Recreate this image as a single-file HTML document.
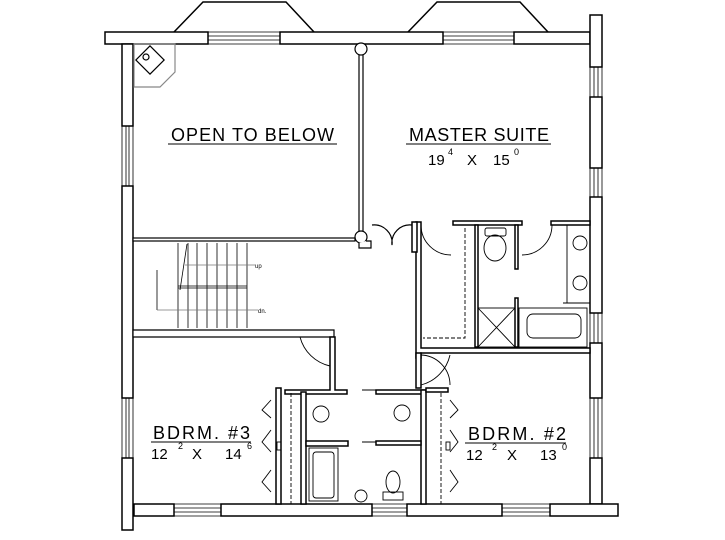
<!DOCTYPE html>
<html><head><style>
html,body{margin:0;padding:0;background:#fff}
svg{display:block}
text{font-family:"Liberation Sans",sans-serif;fill:#000}
</style></head><body>
<svg width="725" height="540" viewBox="0 0 725 540" xmlns="http://www.w3.org/2000/svg">
<g fill="#fff" stroke="#000" stroke-width="1.5">
<polyline points="174,32 203,2 286,2 314,32" fill="none"/>
<polyline points="408,32 437,2 520,2 548,32" fill="none"/>
<rect x="105" y="32" width="103" height="12"/>
<rect x="280" y="32" width="163" height="12"/>
<rect x="514" y="32" width="76" height="12"/>
<rect x="590" y="15" width="12" height="52"/>
<rect x="590" y="97" width="12" height="71"/>
<rect x="590" y="197" width="12" height="116"/>
<rect x="590" y="343" width="12" height="55"/>
<rect x="590" y="458" width="12" height="46"/>
<rect x="122" y="44" width="11" height="82"/>
<rect x="122" y="186" width="11" height="212"/>
<rect x="122" y="458" width="11" height="72"/>
<rect x="134" y="504" width="40" height="12"/>
<rect x="221" y="504" width="151" height="12"/>
<rect x="407" y="504" width="95" height="12"/>
<rect x="550" y="504" width="68" height="12"/>
</g>
<g stroke="#000" stroke-width="0.8" fill="none">
<path d="M208,32H280M208,36H280M208,40H280M208,44H280"/>
<path d="M443,32H514M443,36H514M443,40H514M443,44H514"/>
<path d="M122,126V186M126,126V186M129,126V186M133,126V186"/>
<path d="M122,398V458M126,398V458M129,398V458M133,398V458"/>
<path d="M590,67V97M594,67V97M598,67V97M602,67V97"/>
<path d="M590,168V197M594,168V197M598,168V197M602,168V197"/>
<path d="M590,313V343M594,313V343M598,313V343M602,313V343"/>
<path d="M590,398V458M594,398V458M598,398V458M602,398V458"/>
<path d="M174,504H221M174,508H221M174,512H221M174,516H221"/>
<path d="M372,504H407M372,508H407M372,512H407M372,516H407"/>
<path d="M502,504H550M502,508H550M502,512H550M502,516H550"/>
</g>
<g stroke="#000" stroke-width="1.2" fill="#fff">
<polygon points="134,44 175,44 175,72 160,87 134,87" stroke="#888" fill="none"/>
<rect x="140" y="50" width="20" height="20" transform="rotate(45 150 60)"/>
<circle cx="146" cy="57" r="3"/>
<rect x="359" y="49" width="4" height="188"/>
<circle cx="361" cy="49" r="6"/>
<circle cx="361" cy="237" r="6"/>
<rect x="133" y="238" width="222" height="3"/>
<polyline points="359,243 359,248 371,248 371,241 366,241" fill="#fff"/>
<path d="M372,225 A18,18 0 0 1 392,245 A18,18 0 0 1 412,225" fill="none"/>
<path d="M133,330 H334 V337 H133Z"/>
</g>
<g stroke="#000" stroke-width="0.8" fill="none">
<path d="M178,243V328M188,243V328M197,243V328M207,243V328M217,243V328M227,243V328M237,243V328M247,243V328"/>
<path d="M178,286H247M178,288H247"/>
<path d="M187,244L180,290"/>
<path d="M157,270V310"/>
<path d="M185,265H255M157,310H258" stroke="#777"/>
</g>
<text x="255" y="268" font-size="6" fill="#777">up</text>
<text x="258" y="313" font-size="6" fill="#777">dn.</text>
<g stroke="#000" stroke-width="1.5" fill="#fff">
<path d="M416,222H421V348H590V353H421V358H416Z"/>
<rect x="453" y="221" width="69" height="4"/>
<rect x="551" y="221" width="39" height="4"/>
<rect x="475" y="225" width="3" height="122"/>
<rect x="515" y="298" width="3" height="49"/>
<rect x="515" y="225" width="3" height="44"/>
<rect x="412" y="222" width="5" height="30"/>
</g>
<g stroke="#000" stroke-width="0.9" fill="none">
<path d="M421,225 A30,30 0 0 0 451,255"/>
<path d="M552,225 A30,30 0 0 1 522,255"/>
<path d="M465,228V338H423" stroke-dasharray="4,2"/>
<path d="M567,225V303H590"/>
<path d="M563,303H590V308"/>
<rect x="478" y="308" width="37" height="39"/>
<path d="M478,308L515,347M515,308L478,347"/>
<rect x="519" y="308" width="68" height="39"/>
<rect x="527" y="314" width="54" height="24" rx="6"/>
<ellipse cx="495" cy="248" rx="11" ry="13"/>
<rect x="485" y="228" width="21" height="8" rx="2"/>
<circle cx="580" cy="243" r="7"/><circle cx="580" cy="283" r="7"/>
<path d="M420,355 A30,30 0 0 1 450,385"/>
</g>
<g stroke="#000" stroke-width="1.5" fill="#fff">
<path d="M330,337H335V390H347V394H285V390H330Z"/>
<rect x="276" y="388" width="5" height="116"/>
<rect x="301" y="392" width="5" height="112"/>
<rect x="306" y="441" width="42" height="5"/>
<rect x="376" y="390" width="48" height="4"/>
<rect x="421" y="390" width="5" height="114"/>
<rect x="426" y="388" width="22" height="4"/>
<rect x="376" y="441" width="45" height="4"/>
<path d="M416,353H421V388H416Z"/>
</g>
<g stroke="#000" stroke-width="0.9" fill="none">
<path d="M300,337 A40,40 0 0 0 330,366"/>
<path d="M450,355 A40,40 0 0 1 421,385" />
<path d="M291,393V504M441,393V504" stroke-dasharray="4,2"/>
<path d="M271,400L262,410L271,418M271,430L262,442L271,452M271,470L262,482L271,492"/>
<path d="M450,400L458,410L450,418M450,430L458,442L450,452M450,470L458,482L450,492"/>
<rect x="277" y="442" width="4" height="8"/><rect x="446" y="442" width="4" height="8"/>
<circle cx="321" cy="414" r="8"/><circle cx="402" cy="413" r="8"/>
<rect x="309" y="448" width="29" height="53"/>
<rect x="313" y="452" width="21" height="46" rx="3"/>
<ellipse cx="393" cy="482" rx="7" ry="11"/>
<rect x="383" y="492" width="20" height="8"/>
<circle cx="361" cy="496" r="6"/>
<path d="M362,390H376M362,442H376"/>
</g>
<g font-size="18">
<text x="171" y="141" textLength="163" lengthAdjust="spacing">OPEN TO BELOW</text>
<path d="M168,144H337" stroke="#000" stroke-width="1"/>
<text x="409" y="141" textLength="140" lengthAdjust="spacing">MASTER SUITE</text>
<path d="M406,144H551" stroke="#000" stroke-width="1"/>
<text x="428" y="165" font-size="15">19</text><text x="448" y="155" font-size="9">4</text>
<text x="467" y="165" font-size="15">X</text><text x="493" y="165" font-size="15">15</text><text x="514" y="155" font-size="9">0</text>
<text x="153" y="439" textLength="97" lengthAdjust="spacing">BDRM.  #3</text>
<path d="M151,442H251" stroke="#000" stroke-width="1"/>
<text x="151" y="459" font-size="15">12</text><text x="178" y="449" font-size="9">2</text>
<text x="192" y="459" font-size="15">X</text><text x="225" y="459" font-size="15">14</text><text x="247" y="449" font-size="9">6</text>
<text x="468" y="440" textLength="98" lengthAdjust="spacing">BDRM.  #2</text>
<path d="M465,443H566" stroke="#000" stroke-width="1"/>
<text x="466" y="460" font-size="15">12</text><text x="492" y="450" font-size="9">2</text>
<text x="507" y="460" font-size="15">X</text><text x="540" y="460" font-size="15">13</text><text x="562" y="450" font-size="9">0</text>
</g>
</svg>
</body></html>
